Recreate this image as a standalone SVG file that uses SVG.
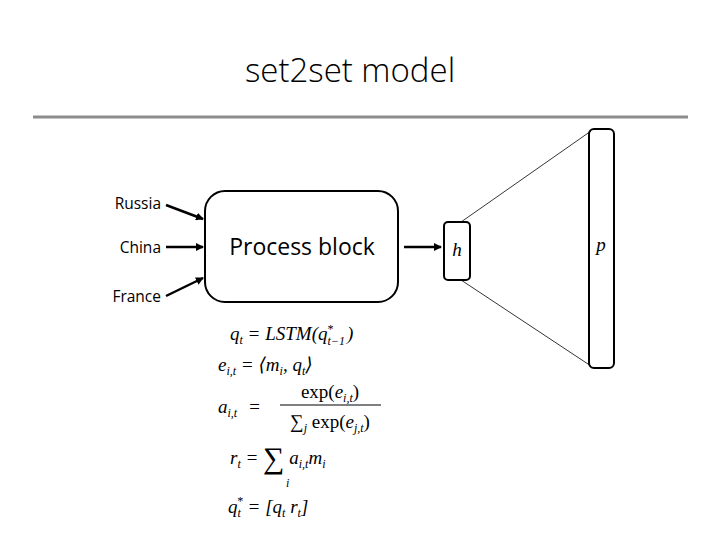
<svg xmlns="http://www.w3.org/2000/svg" width="720" height="540" viewBox="0 0 720 540">
<style>
.lbl{font-family:"Open Sans","Liberation Sans",sans-serif;font-size:15.5px;fill:#000}
.box{fill:#fff;stroke:#000;stroke-width:2}
.arr{stroke:#000;stroke-width:2.5;fill:none;marker-end:url(#ah)}
.thin{stroke:#000;stroke-width:0.8}
.eq{font-family:"Liberation Serif","DejaVu Serif",serif;font-size:19px;font-style:italic;fill:#000}
.up{font-style:normal}
.sub{font-size:12px}
</style>
<defs><marker id="ah" markerWidth="8" markerHeight="8" refX="7" refY="4" orient="auto" markerUnits="userSpaceOnUse"><path d="M0,0 L8,4 L0,8 Z" fill="#000"/></marker></defs>
<rect width="720" height="540" fill="#fff"/>
<text x="350" y="82" text-anchor="middle" style="font-family:'Open Sans','Liberation Sans',sans-serif;font-size:33px;font-weight:300">set2set model</text>
<line x1="33" y1="117" x2="688" y2="117" stroke="#8c8c8c" stroke-width="3"/>
<g id="inputs">
<text class="lbl" x="161" y="209" text-anchor="end">Russia</text>
<text class="lbl" x="161" y="253" text-anchor="end">China</text>
<text class="lbl" x="161" y="302" text-anchor="end">France</text>
</g>
<g id="process"><rect class="box" x="205" y="191" width="193" height="111" rx="20"/>
<text x="302" y="255" text-anchor="middle" style="font-family:'Open Sans','Liberation Sans',sans-serif;font-size:23px">Process block</text></g>
<g id="h"><rect class="box" x="444" y="222" width="26" height="58" rx="4"/><text class="eq" x="457" y="256" text-anchor="middle">h</text></g>
<g id="p"><rect class="box" x="589" y="129" width="25" height="239" rx="5"/><text class="eq" x="601" y="251" text-anchor="middle">p</text></g>
<g id="connectors">
<line class="arr" x1="166" y1="205" x2="203" y2="219"/>
<line class="arr" x1="166" y1="247" x2="203" y2="247"/>
<line class="arr" x1="166" y1="296" x2="203" y2="278"/>
<line class="arr" x1="404" y1="247" x2="441" y2="247"/>
<line class="thin" x1="461" y1="222" x2="591" y2="131"/>
<line class="thin" x1="461" y1="280" x2="591" y2="366"/>
</g>
<g id="equations">
<text class="eq" x="230" y="340">q<tspan class="sub" dy="4">t</tspan><tspan dy="-4"> = LSTM(q</tspan><tspan class="sub" dy="5">t−1</tspan><tspan class="sub" dx="-18" dy="-12">*</tspan><tspan dx="14" dy="7">)</tspan></text>
<text class="eq" x="218" y="371">e<tspan class="sub" dy="4">i,t</tspan><tspan dy="-4"> = ⟨m</tspan><tspan class="sub" dy="4">i</tspan><tspan dy="-4">, q</tspan><tspan class="sub" dy="4">t</tspan><tspan dy="-4">⟩</tspan></text>
<text class="eq" x="218" y="413">a<tspan class="sub" dy="4">i,t</tspan><tspan dy="-4" dx="6"> =</tspan></text>
<text class="eq" x="330" y="398" text-anchor="middle"><tspan class="up">exp(</tspan>e<tspan class="sub" dy="4">i,t</tspan><tspan class="up" dy="-4">)</tspan></text>
<line x1="280" y1="405" x2="381" y2="405" stroke="#000" stroke-width="1"/>
<text class="eq" x="330" y="428" text-anchor="middle"><tspan class="up">∑</tspan><tspan class="sub" dy="4">j</tspan><tspan class="up" dy="-4"> exp(</tspan>e<tspan class="sub" dy="4">j,t</tspan><tspan class="up" dy="-4">)</tspan></text>
<text class="eq" x="230" y="464">r<tspan class="sub" dy="4">t</tspan><tspan dy="-4"> = </tspan><tspan class="up" style="font-size:30px" dy="4">∑</tspan><tspan dy="-4"> a</tspan><tspan class="sub" dy="4">i,t</tspan><tspan dy="-4">m</tspan><tspan class="sub" dy="4">i</tspan></text>
<text class="eq sub" x="286" y="487">i</text>
<text class="eq" x="228" y="513">q<tspan class="sub" dy="4">t</tspan><tspan class="sub" dx="-4" dy="-12">*</tspan><tspan dy="8"> = [q</tspan><tspan class="sub" dy="4">t</tspan><tspan dy="-4"> r</tspan><tspan class="sub" dy="4">t</tspan><tspan dy="-4">]</tspan></text>
</g>
</svg>
